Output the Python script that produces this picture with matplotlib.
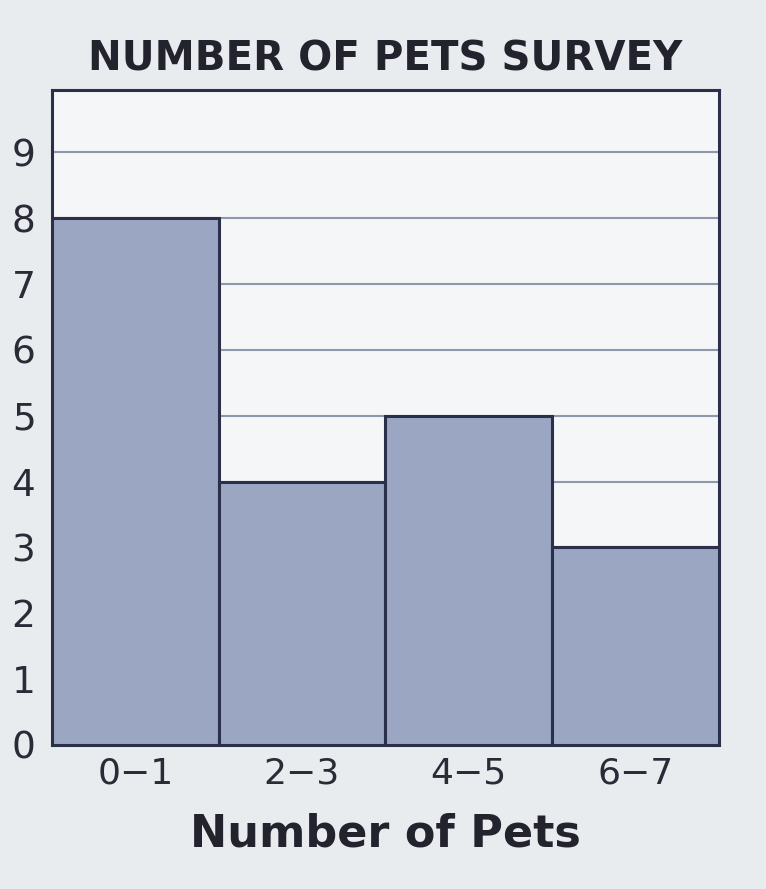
import matplotlib
matplotlib.use("Agg")
import matplotlib.pyplot as plt

# data
categories = ["0\u22121", "2\u22123", "4\u22125", "6\u22127"]
counts = [8, 4, 5, 3]
y_ticks = [0, 1, 2, 3, 4, 5, 6, 7, 8, 9]

plt.rcParams['font.family'] = ['DejaVu Sans']

fig = plt.figure(figsize=(7.66, 8.89), dpi=100)
fig.patch.set_facecolor("#e9ecee")
ax = fig.add_axes([0.068, 0.162, 0.87, 0.737])
ax.set_facecolor("#f4f6f7")

x = range(len(categories))
ax.bar(x, counts, width=1.0, color="#9ba6c2", edgecolor="#2a2f4a",
       linewidth=2.2, zorder=3)

ax.set_xlim(-0.5, len(categories) - 0.5)
ax.set_ylim(0, 9.95)
ax.set_yticks(y_ticks)
ax.set_yticklabels([str(v) for v in y_ticks], fontsize=27, color="#2b2b38")
ax.set_xticks(list(x))
ax.set_xticklabels(categories, fontsize=26, color="#2b2b38")
ax.tick_params(length=0, pad=8)
ax.tick_params(axis='y', pad=12)

ax.yaxis.grid(True, color="#8f97ad", linewidth=1.5, zorder=1)
for s in ax.spines.values():
    s.set_color("#2a2f4a")
    s.set_linewidth(2.2)

ax.set_title("NUMBER OF PETS SURVEY", fontsize=29, fontweight="bold",
             color="#23232e", pad=14)
ax.set_xlabel("Number of Pets", fontsize=32, fontweight="bold",
              color="#23232e", labelpad=16)

fig.savefig("out.png", dpi=100, facecolor=fig.get_facecolor())
